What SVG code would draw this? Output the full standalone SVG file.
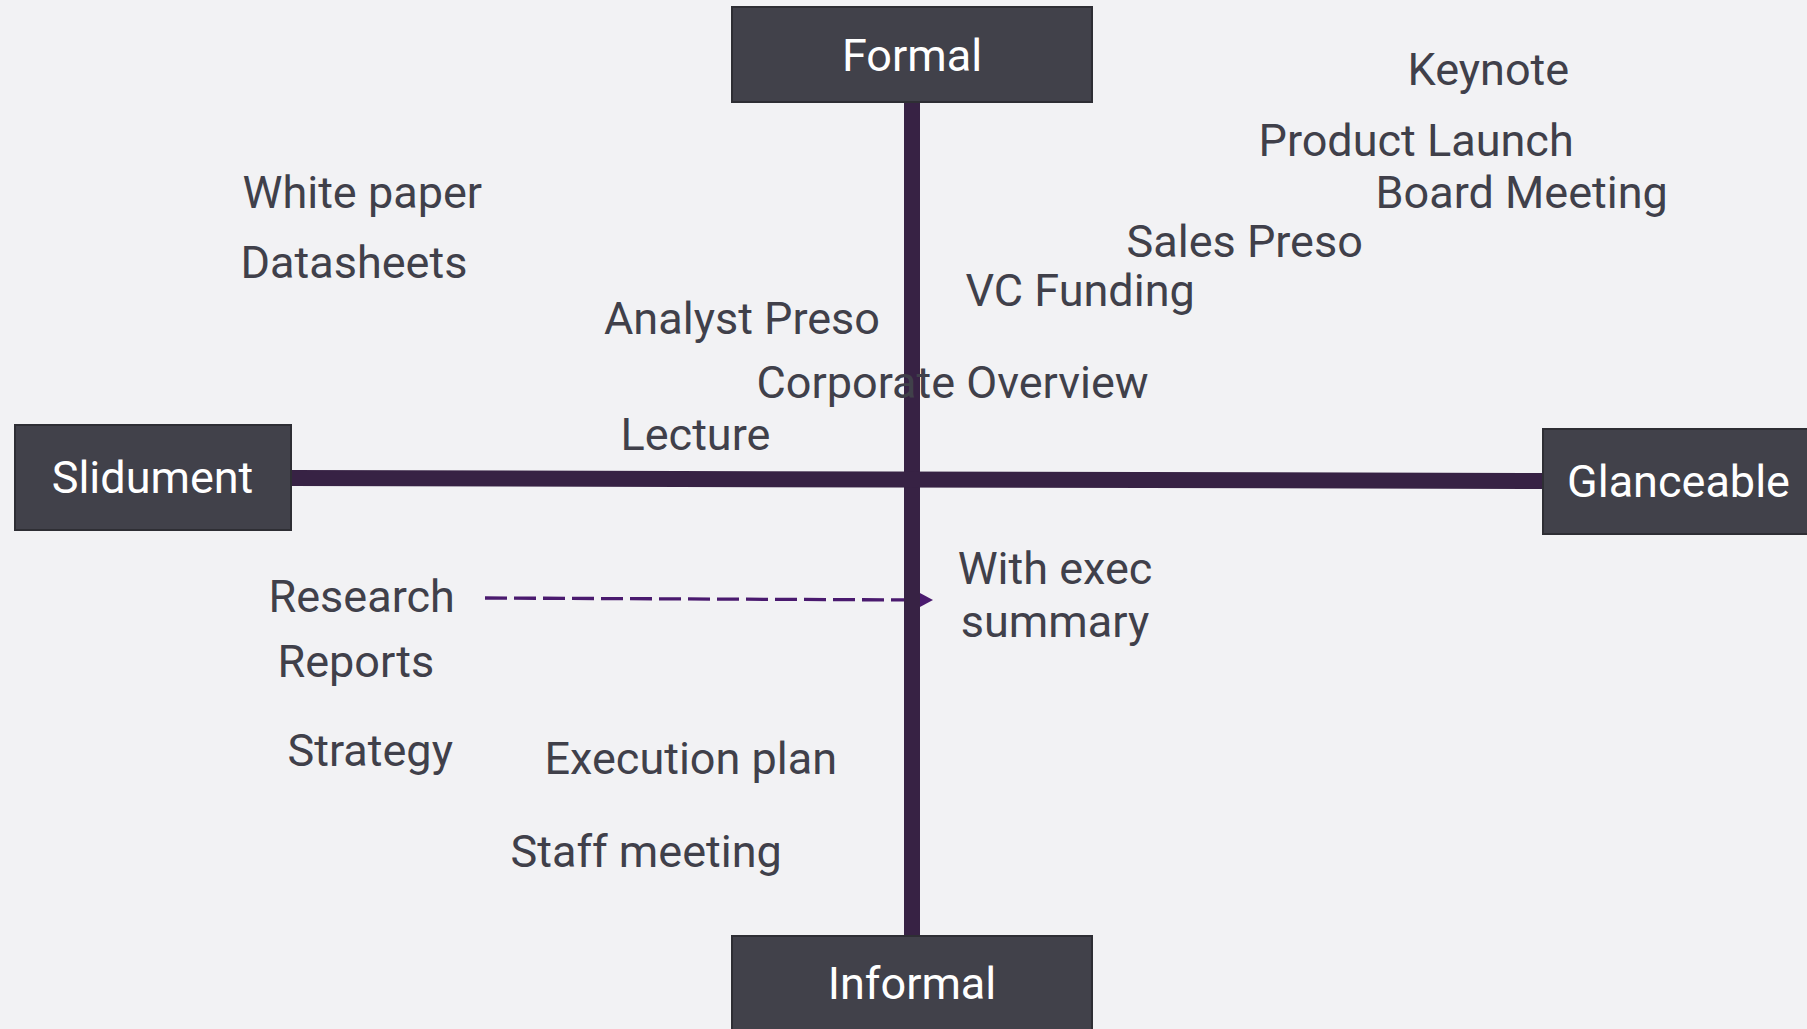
<svg xmlns="http://www.w3.org/2000/svg" width="1807" height="1029" viewBox="0 0 1807 1029">
<style>
.bg{fill:#f2f2f4}
.box{fill:#41414a;stroke:#2e2e34;stroke-width:2}
.bt{font-family:Roboto,"Liberation Sans",sans-serif;font-size:45px;fill:#ffffff;text-anchor:middle}
.lb{font-family:Roboto,"Liberation Sans",sans-serif;font-size:45px;fill:#40404a}
.axis{stroke:#372244;stroke-width:16;fill:none}
.dash{stroke:#4a1a6e;stroke-width:3.3;stroke-dasharray:22 7;fill:none}
</style>
<defs>
<marker id="ah" markerUnits="userSpaceOnUse" markerWidth="15" markerHeight="16" refX="0" refY="7.5" orient="auto">
<path d="M0,0 L14,7.5 L0,15 z" fill="#4a1a6e"/>
</marker>
</defs>
<rect class="bg" x="0" y="0" width="1807" height="1029"/>
<g id="connectors">
<line id="e-research-exec" class="dash" x1="485" y1="598" x2="919" y2="600" marker-end="url(#ah)"/>
<line id="e-formal-informal" class="axis" x1="912" y1="103" x2="912" y2="935"/>
<line id="e-slidument-glanceable" class="axis" x1="292" y1="478" x2="1542" y2="481"/>
</g>
<g id="formal"><rect class="box" x="732" y="7" width="360" height="95"/><text class="bt" x="912" y="71">Formal</text></g>
<g id="informal"><rect class="box" x="732" y="936" width="360" height="95"/><text class="bt" x="912" y="999">Informal</text></g>
<g id="slidument"><rect class="box" x="15" y="425" width="276" height="105"/><text class="bt" x="152.5" y="493">Slidument</text></g>
<g id="glanceable"><rect class="box" x="1543" y="429" width="271" height="105"/><text class="bt" x="1678.5" y="497">Glanceable</text></g>
<g id="keynote"><text class="lb" x="1407.5" y="85">Keynote</text></g>
<g id="product-launch"><text class="lb" x="1258.5" y="156">Product Launch</text></g>
<g id="board-meeting"><text class="lb" x="1375.5" y="208">Board Meeting</text></g>
<g id="sales-preso"><text class="lb" x="1126.5" y="257">Sales Preso</text></g>
<g id="vc-funding"><text class="lb" x="965.5" y="306">VC Funding</text></g>
<g id="white-paper"><text class="lb" x="242.5" y="208">White paper</text></g>
<g id="datasheets"><text class="lb" x="240.5" y="278">Datasheets</text></g>
<g id="analyst-preso"><text class="lb" x="604" y="334">Analyst Preso</text></g>
<g id="corporate-overview"><text class="lb" x="756.5" y="398">Corporate Overview</text></g>
<g id="lecture"><text class="lb" x="620.5" y="450">Lecture</text></g>
<g id="research"><text class="lb" x="268.5" y="612">Research</text></g>
<g id="reports"><text class="lb" x="277.5" y="677">Reports</text></g>
<g id="with-exec"><text class="lb" x="1055" y="584" text-anchor="middle">With exec</text><text class="lb" x="1055" y="637" text-anchor="middle">summary</text></g>
<g id="strategy"><text class="lb" x="287.5" y="766">Strategy</text></g>
<g id="execution-plan"><text class="lb" x="544.5" y="774">Execution plan</text></g>
<g id="staff-meeting"><text class="lb" x="510.5" y="867">Staff meeting</text></g>
</svg>
